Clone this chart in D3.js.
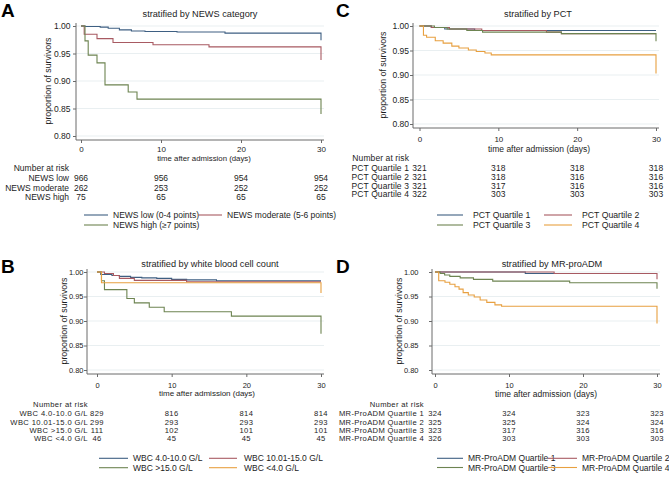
<!DOCTYPE html>
<html><head><meta charset="utf-8">
<script src="https://cdn.jsdelivr.net/npm/d3@7"></script>
<style>body{margin:0;background:#fff} svg{display:block;font-family:"Liberation Sans",Arial,Helvetica,sans-serif}</style>
</head><body><svg id="chart" width="669" height="491"></svg>
<script>
// ---------- shared ticks ----------
const timeTicks = [0, 10, 20, 30];
const survTicks = [0.80, 0.85, 0.90, 0.95, 1.00];
const seriesColors = ["#3e5f82", "#a85a62", "#6d8451", "#e8a040"];

// ---------- Panel A: NEWS ----------
const newsLegend = ["NEWS low (0-4 points)", "NEWS moderate (5-6 points)", "NEWS high (\u22657 points)"];
const newsRiskLabels = ["NEWS low", "NEWS moderate", "NEWS high"];
const newsRisk = [[966, 956, 954, 954], [262, 253, 252, 252], [75, 65, 65, 65]];
const newsLow = [[0,1],[0.5,0.999],[2.4,0.998],[3.4,0.996],[4.8,0.993],[6.3,0.991],[8,0.990],[12,0.989],[18,0.987],[30,0.987],[30,0.974]];
const newsModerate = [[0,1],[0.4,0.985],[2,0.977],[4,0.970],[9,0.966],[16,0.962],[30,0.962],[30,0.938]];
const newsHigh = [[0,1],[0.5,0.973],[0.9,0.947],[2,0.933],[3,0.893],[5.9,0.880],[7,0.867],[30,0.867],[30,0.840]];

// ---------- Panel B: WBC ----------
const wbcLegend = ["WBC 4.0-10.0 G/L", "WBC 10.01-15.0 G/L", "WBC >15.0 G/L", "WBC <4.0 G/L"];
const wbcRiskLabels = ["WBC 4.0-10.0 G/L", "WBC 10.01-15.0 G/L", "WBC >15.0 G/L", "WBC <4.0 G/L"];
const wbcRisk = [[829, 816, 814, 814], [299, 293, 293, 293], [111, 102, 101, 101], [46, 45, 45, 45]];
const wbcNormal = [[0,1],[0.5,0.995],[2,0.993],[3,0.991],[4.5,0.989],[6,0.988],[8,0.987],[10,0.985],[12,0.984],[16,0.982],[30,0.982]];
const wbcModerate = [[0,1],[1,0.997],[2.2,0.993],[3,0.987],[5,0.983],[12,0.980],[30,0.980]];
const wbcHigh = [[0,1],[0.6,0.982],[1,0.964],[4,0.946],[5,0.937],[7,0.928],[9,0.919],[18,0.910],[30,0.910],[30,0.874]];
const wbcLow = [[0,1],[0.6,0.978],[30,0.978],[30,0.957]];

// ---------- Panel C: PCT ----------
const pctLegend = ["PCT Quartile 1", "PCT Quartile 2", "PCT Quartile 3", "PCT Quartile 4"];
const pctRiskLabels = ["PCT Quartile 1", "PCT Quartile 2", "PCT Quartile 3", "PCT Quartile 4"];
const pctRisk = [[321, 318, 318, 318], [321, 318, 316, 316], [321, 317, 316, 316], [322, 303, 303, 303]];
const pctQ1 = [[0,1],[1.5,0.997],[3.2,0.994],[7,0.9907],[30,0.9907]];
const pctQ2 = [[0,1],[1.5,0.997],[3.8,0.994],[7.9,0.9907],[16.1,0.9875],[18,0.9844],[30,0.9844]];
const pctQ3 = [[0,1],[1.9,0.997],[3.5,0.994],[6,0.9907],[8,0.9875],[18,0.9844],[30,0.9844],[30,0.969]];
const pctQ4 = [[0,1],[0.5,0.981],[0.9,0.977],[2,0.970],[3,0.965],[4.1,0.959],[5,0.955],[6.2,0.951],[7.2,0.948],[8.3,0.945],[9.1,0.941],[30,0.941],[30,0.903]];

// ---------- Panel D: MR-proADM ----------
const admLegend = ["MR-ProADM Quartile 1", "MR-ProADM Quartile 2", "MR-ProADM Quartile 3", "MR-ProADM Quartile 4"];
const admRiskLabels = ["MR-ProADM Quartile 1", "MR-ProADM Quartile 2", "MR-ProADM Quartile 3", "MR-ProADM Quartile 4"];
const admRisk = [[324, 324, 323, 323], [325, 325, 324, 324], [323, 317, 316, 316], [326, 303, 303, 303]];
const admQ1 = [[0,1],[12.2,0.9969],[30,0.9969]];
const admQ2 = [[0,1],[16.1,0.9969],[30,0.9969],[30,0.985]];
const admQ3 = [[0,1],[0.7,0.997],[1.3,0.994],[2,0.991],[3.4,0.988],[5.2,0.985],[7.8,0.9814],[18.2,0.978],[30,0.978],[30,0.966]];
const admQ4 = [[0,1],[0.5,0.982],[1.35,0.979],[2,0.975],[2.7,0.970],[3.25,0.965],[3.8,0.958],[4.5,0.953],[5.3,0.949],[6.1,0.943],[7,0.938],[8.1,0.933],[9,0.930],[30,0.930],[30,0.895]];

// ---------- layout ----------
const panels = [
  {letter:"A", title:"stratified by NEWS category", series:[newsLow,newsModerate,newsHigh], legend:newsLegend,
   riskLabels:newsRiskLabels, risk:newsRisk,
   letterX:1, letterY:17, titleX:200, titleY:17, xr:[81,321], yr:[136,26], axisX:76, axisY:140, plotTop:23, plotRight:324,
   yLabelRight:70.5, yTitleX:50.5, xTickY:152, xTitleX:204, xTitleY:161, riskHeadY:171, riskRight:69,
   riskRows:[181.3,190.7,199.9], legendRows:[215,225], legendCols:[[84,108,113],[198,222,227]],
   tickFs:8.5, xTickFs:8, xTitleFs:7.8, riskFs:8.5, riskLs:0, legFs:8.5},
  {letter:"C", title:"stratified by PCT", series:[pctQ1,pctQ2,pctQ3,pctQ4], legend:pctLegend,
   riskLabels:pctRiskLabels, risk:pctRisk,
   letterX:336, letterY:17, titleX:538, titleY:17, xr:[419.5,656], yr:[124,26], axisX:413, axisY:128, plotTop:23, plotRight:659,
   yLabelRight:409, yTitleX:385.5, xTickY:142, xTitleX:539, xTitleY:151.5, riskHeadY:161.3, riskRight:409,
   riskRows:[171.3,180.2,188.9,197.4], legendRows:[215,225], legendCols:[[437,463,473],[544,572,582]],
   tickFs:8.5, xTickFs:8, xTitleFs:8.5, riskFs:8.5, riskLs:0.1, legFs:8.7},
  {letter:"B", title:"stratified by white blood cell count", series:[wbcNormal,wbcModerate,wbcHigh,wbcLow], legend:wbcLegend,
   riskLabels:wbcRiskLabels, risk:wbcRisk,
   letterX:1, letterY:273, titleX:210, titleY:267, xr:[97,321], yr:[370,272], axisX:87, axisY:374, plotTop:269, plotRight:324,
   yLabelRight:83.5, yTitleX:66.5, xTickY:388, xTitleX:207, xTitleY:396.3, riskHeadY:407, riskRight:88,
   riskRows:[416.2,424.6,433,441.4], legendRows:[458.3,467.7], legendCols:[[99,128,133],[209,237,244]],
   tickFs:7.5, xTickFs:7.5, xTitleFs:8, riskFs:7.6, riskLs:0.4, legFs:8.5},
  {letter:"D", title:"stratified by MR-proADM", series:[admQ1,admQ2,admQ3,admQ4], legend:admLegend,
   riskLabels:admRiskLabels, risk:admRisk,
   letterX:336, letterY:273, titleX:552, titleY:267, xr:[435,657], yr:[370,272], axisX:432, axisY:374, plotTop:269, plotRight:660,
   yLabelRight:418.5, yTitleX:401.5, xTickY:388, xTitleX:546, xTitleY:397, riskHeadY:407, riskRight:424,
   riskRows:[416.2,424.6,433,441.4], legendRows:[458.3,467.5], legendCols:[[437,463,468],[548,577,582]],
   tickFs:7.5, xTickFs:7.5, xTitleFs:8.5, riskFs:7.6, riskLs:0.35, legFs:8.5}
];

const svg = d3.select("#chart");
svg.append("rect").attr("width",669).attr("height",491).attr("fill","#fff");
const textCol = "#1c1c1c", axisCol = "#6a6a6a", gridCol = "#e9eff1";

panels.forEach(p => {
  const g = svg.append("g");
  const x = d3.scaleLinear().domain([0, 30]).range(p.xr);
  const y = d3.scaleLinear().domain([0.80, 1.00]).range(p.yr);

  g.append("text").attr("x", p.letterX).attr("y", p.letterY).attr("font-size", 19).attr("font-weight", "bold")
    .attr("fill", "#000").text(p.letter);
  g.append("text").attr("x", p.titleX).attr("y", p.titleY).attr("text-anchor", "middle").attr("font-size", 9.2)
    .attr("fill", textCol).text(p.title);

  // gridlines
  g.selectAll("line.grid").data(survTicks).join("line").attr("class", "grid")
    .attr("x1", p.axisX).attr("x2", p.plotRight).attr("y1", d => y(d)).attr("y2", d => y(d))
    .attr("stroke", gridCol).attr("stroke-width", 1);

  // y axis
  const ya = g.append("g").attr("transform", `translate(${p.axisX},0)`)
    .call(d3.axisLeft(y).tickValues(survTicks).tickFormat(d3.format(".2f")).tickSize(3).tickPadding(2));
  ya.select(".domain").remove();
  ya.selectAll("line").attr("stroke", axisCol);
  ya.selectAll("text").attr("x", p.yLabelRight - p.axisX).attr("font-size", p.tickFs).attr("fill", textCol)
    .attr("font-family", null);
  g.append("line").attr("x1", p.axisX).attr("x2", p.axisX).attr("y1", p.plotTop).attr("y2", p.axisY)
    .attr("stroke", axisCol);

  // x axis
  const xa = g.append("g").attr("transform", `translate(0,${p.axisY})`)
    .call(d3.axisBottom(x).tickValues(timeTicks).tickFormat(d3.format("d")).tickSize(3));
  xa.select(".domain").remove();
  xa.selectAll("line").attr("stroke", axisCol);
  xa.selectAll("text").attr("y", p.xTickY - p.axisY).attr("dy", null).attr("font-size", p.xTickFs)
    .attr("fill", textCol).attr("font-family", null);
  g.append("line").attr("x1", p.axisX).attr("x2", p.plotRight).attr("y1", p.axisY).attr("y2", p.axisY)
    .attr("stroke", axisCol);

  g.append("text").attr("transform", `translate(${p.yTitleX},${(p.yr[0] + p.yr[1]) / 2}) rotate(-90)`)
    .attr("text-anchor", "middle").attr("font-size", 8.8).attr("fill", textCol).text("proportion of survivors");
  g.append("text").attr("x", p.xTitleX).attr("y", p.xTitleY).attr("text-anchor", "middle")
    .attr("font-size", p.xTitleFs).attr("fill", textCol).text("time after admission (days)");

  // survival curves
  const line = d3.line().x(d => x(d[0])).y(d => y(d[1])).curve(d3.curveStepAfter);
  g.selectAll("path.km").data(p.series).join("path").attr("class", "km")
    .attr("d", line).attr("fill", "none").attr("stroke", (d, i) => seriesColors[i]).attr("stroke-width", 1.1);

  // number at risk
  g.append("text").attr("x", p.riskRight).attr("y", p.riskHeadY).attr("text-anchor", "end")
    .attr("font-size", p.riskFs).attr("letter-spacing", p.riskLs).attr("fill", textCol).text("Number at risk");
  p.riskLabels.forEach((lab, r) => {
    g.append("text").attr("x", p.riskRight).attr("y", p.riskRows[r]).attr("text-anchor", "end")
      .attr("font-size", p.riskFs).attr("letter-spacing", p.riskLs).attr("fill", textCol).text(lab);
    g.selectAll(null).data(p.risk[r]).join("text")
      .attr("x", (d, i) => x(timeTicks[i])).attr("y", p.riskRows[r]).attr("text-anchor", "middle")
      .attr("font-size", p.riskFs).attr("letter-spacing", p.riskLs).attr("fill", textCol).text(d => d);
  });

  // legend
  p.legend.forEach((lab, i) => {
    const row = Math.floor(i / 2), col = p.legendCols[i % 2];
    const ly = p.legendRows[row];
    g.append("line").attr("x1", col[0]).attr("x2", col[1]).attr("y1", ly).attr("y2", ly)
      .attr("stroke", seriesColors[i]).attr("stroke-width", 1.1);
    g.append("text").attr("x", col[2]).attr("y", ly + 3).attr("font-size", p.legFs).attr("fill", textCol).text(lab);
  });
});
</script>
</body></html>
